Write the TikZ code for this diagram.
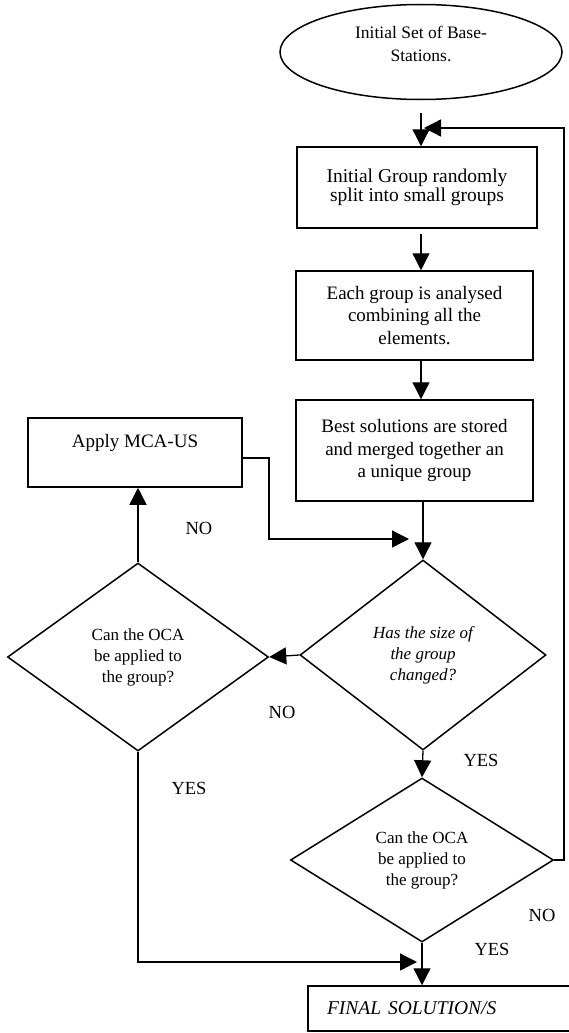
\documentclass[tikz,border=0pt]{standalone}
\usepackage{fontspec}
\setmainfont{Liberation Serif}
\usetikzlibrary{shapes.geometric,arrows.meta}
\tikzset{
	flowline/.style={line width=1.3pt, -{Triangle[length=17pt,width=17pt]}},
	stepbox/.style={draw, rectangle, line width=1.5pt, align=center, inner sep=0pt, font=\fontsize{19}{22.5}\selectfont},
	askbox/.style={draw, diamond, line width=1.5pt, align=center, inner sep=0pt, font=\fontsize{17}{21}\selectfont},
	answer/.style={inner sep=0pt, font=\fontsize{18.5}{22}\selectfont}
}

\begin{document}
\begin{tikzpicture}[x=1pt,y=-1pt]
			%%%%% START %%%%%
			\useasboundingbox (0,0) rectangle (568,1033);
			
			\node[draw, ellipse, line width=1.5pt, minimum width=282pt, minimum height=95pt, align=center, font=\fontsize{17.5}{23}\selectfont] (start) at (421,52) {Initial Set of Base-\\Stations.\\[-6pt]\mbox{}};
			
			\node[stepbox, minimum width=240pt, minimum height=81pt, font=\fontsize{19.5}{19}\selectfont] (group) at (417,187.5) {Initial Group randomly\\split into small groups};
			\node[stepbox, minimum width=237pt, minimum height=89pt] (analyse) at (414.5,315.5) {Each group is analysed\\combining all the\\elements.};
			\node[stepbox, minimum width=237pt, minimum height=101pt] (merge) at (414.5,450.5) {Best solutions are stored\\and merged together an\\a unique group};
			\node[stepbox, minimum width=214pt, minimum height=69pt] (mca) at (135,452.5) {Apply MCA-US\\\mbox{}};
			
			\node[askbox, minimum width=246pt, minimum height=190pt, aspect=1.3, font=\fontsize{17}{21}\selectfont\itshape] (sizechk) at (423,655) {Has the size of\\the group\\changed?};
			\node[askbox, minimum width=261pt, minimum height=188pt, aspect=1.39] (ocaleft) at (138,657) {Can the OCA\\be applied to\\the group?};
			\node[askbox, minimum width=263pt, minimum height=164pt, aspect=1.6] (ocaright) at (422,860) {Can the OCA\\be applied to\\the group?};
			
			\node[draw, rectangle, line width=1.5pt, minimum height=45pt, text width=242pt, inner xsep=19pt, inner ysep=0pt, align=left, font=\fontsize{19.5}{22}\selectfont\itshape] (final) at (448,1008.5) {FINAL\hspace{0.35em}SOLUTION/S};
			
			\draw[flowline, shorten <=13pt] (start.south) -- (group.north -| start.south);
			\draw[flowline, shorten <=5pt] (group.south -| start.south) -- (analyse.north -| start.south);
			\draw[flowline] (analyse.south -| start.south) -- (merge.north -| start.south);
			\draw[flowline] (merge.south -| sizechk.north) -- (sizechk.north);
			\draw[flowline] (sizechk.south) -- (ocaright.north);
			\draw[flowline] (ocaright.south) -- (final.north -| ocaright.south);
			\draw[flowline] (sizechk.west) -- (ocaleft.east);
			\draw[flowline] (ocaleft.north) -- (mca.south -| ocaleft.north);
			
			\coordinate (mcaturn) at (269,458);
			\coordinate (mcajoin) at (409,539);
			\draw[flowline] (mca.east |- mcaturn) -- (mcaturn) |- (mcajoin);
			
			\coordinate (yesjoin) at (417,962);
			\draw[flowline] (ocaleft.south) |- (yesjoin);
			
			\coordinate (loopcorner) at (564,128);
			\coordinate (loopend) at (424,128);
			\draw[flowline] (ocaright.east) -| (loopcorner) -- (loopend);
			
			\node[answer] (no1) at (199,528) {NO};
			\node[answer] (no2) at (282,712) {NO};
			\node[answer] (yes1) at (189,788) {YES};
			\node[answer] (yes2) at (481,760) {YES};
			\node[answer] (no3) at (542,915) {NO};
			\node[answer] (yes3) at (492,949) {YES};
			%%%%% END %%%%%
\end{tikzpicture}
\end{document}
